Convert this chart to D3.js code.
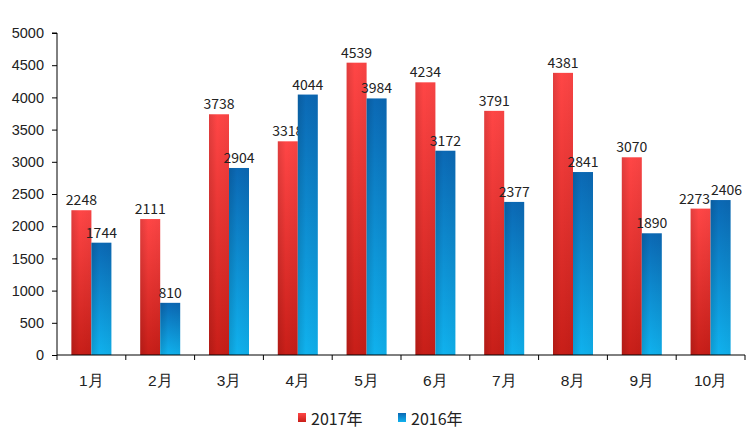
<!DOCTYPE html>
<html><head><meta charset="utf-8">
<script src="https://cdn.jsdelivr.net/npm/d3@7/dist/d3.min.js"></script>
<style>body{margin:0;background:#fff;} svg{display:block;font-family:"Microsoft YaHei","Noto Sans CJK SC","DejaVu Sans",sans-serif;}</style>
</head><body><svg id="c" width="755" height="440"></svg>
<script>
const categories = ["1月","2月","3月","4月","5月","6月","7月","8月","9月","10月"];
const series2017 = [2248,2111,3738,3318,4539,4234,3791,4381,3070,2273];
const series2016 = [1744,810,2904,4044,3984,3172,2377,2841,1890,2406];
const seriesNames = ["2017年","2016年"];
const yTicks = [0,500,1000,1500,2000,2500,3000,3500,4000,4500,5000];

const svg = d3.select("#c");
const m = {l:57, r:10, t:33, b:85};
const x = d3.scaleBand().domain(categories).range([m.l, 745]).paddingInner(0).paddingOuter(0);
const y = d3.scaleLinear().domain([0,5000]).range([355, 33]);
const barW = 20;

const defs = svg.append("defs");
const gr = defs.append("linearGradient").attr("id","gRed").attr("x1",0).attr("y1",0).attr("x2",0).attr("y2",1);
gr.append("stop").attr("offset","0%").attr("stop-color","#ff4646");
gr.append("stop").attr("offset","100%").attr("stop-color","#c81e18");
const gb = defs.append("linearGradient").attr("id","gBlue").attr("x1",0).attr("y1",0).attr("x2",0).attr("y2",1);
gb.append("stop").attr("offset","0%").attr("stop-color","#0b68b4");
gb.append("stop").attr("offset","100%").attr("stop-color","#10b2ee");
const gs = defs.append("linearGradient").attr("id","gShade").attr("x1",0).attr("y1",0).attr("x2",1).attr("y2",0);
gs.append("stop").attr("offset","0%").attr("stop-color","#000").attr("stop-opacity",0.12);
gs.append("stop").attr("offset","40%").attr("stop-color","#000").attr("stop-opacity",0);
gs.append("stop").attr("offset","100%").attr("stop-color","#000").attr("stop-opacity",0.04);

const data = [series2017, series2016];
const fills = ["url(#gRed)","url(#gBlue)"];
const xs = (i, si) => x(categories[i]) + x.bandwidth()/2 - barW + si*barW;
// label nudge where the two labels of a category would collide
const nudge = categories.map((c,i)=> Math.abs(y(series2017[i]) - y(series2016[i])) < 16 ? 6 : 0);

data.forEach((vals, si) => {
  const g = svg.append("g");
  g.selectAll("rect.b").data(vals).enter().append("rect")
    .attr("x",(d,i)=>xs(i,si)).attr("y",d=>y(d)).attr("width",barW).attr("height",d=>y(0)-y(d))
    .attr("fill",fills[si]);
  g.selectAll("rect.s").data(vals).enter().append("rect")
    .attr("x",(d,i)=>xs(i,si)).attr("y",d=>y(d)).attr("width",barW).attr("height",d=>y(0)-y(d))
    .attr("fill","url(#gShade)");
  g.selectAll("text").data(vals).enter().append("text")
    .attr("x",(d,i)=>xs(i,si)+barW/2 + (si===0 ? -nudge[i] : nudge[i]))
    .attr("y",d=>y(d)-5)
    .attr("text-anchor","middle").attr("font-size",14).attr("fill","#222")
    .text(d=>d);
});

// y axis
const ya = svg.append("g").attr("transform",`translate(${m.l},0)`)
  .call(d3.axisLeft(y).tickValues(yTicks).tickSize(5).tickPadding(8).tickFormat(d3.format("d")));
ya.select(".domain").attr("stroke","#000").attr("d",`M-5,${y(5000)}H0V${y(0)}`);
ya.selectAll(".tick line").attr("stroke","#000");
ya.selectAll("text").attr("font-size",14.5).attr("fill","#222").attr("font-family","inherit");

// x axis
const xa = svg.append("g").attr("transform",`translate(0,${y(0)})`)
  .call(d3.axisBottom(x).tickSize(0).tickPadding(20));
xa.select(".domain").attr("stroke","#000").attr("d",`M${m.l},0H745`);
xa.selectAll("text").attr("font-size",15.5).attr("fill","#222").attr("font-family","inherit");
const bounds = categories.map(c=>x(c)).concat([x(categories[categories.length-1])+x.bandwidth()]);
xa.selectAll("line.bt").data(bounds).enter().append("line").attr("class","bt")
  .attr("x1",d=>d).attr("x2",d=>d).attr("y1",0).attr("y2",5).attr("stroke","#000");

// legend
const leg = svg.append("g");
const legX = [298, 398];
seriesNames.forEach((n,i)=>{
  leg.append("rect").attr("x",legX[i]).attr("y",413).attr("width",8).attr("height",9).attr("fill",fills[i]);
  leg.append("text").attr("x",legX[i]+13).attr("y",425).attr("font-size",16).attr("fill","#222").text(n);
});
</script></body></html>
